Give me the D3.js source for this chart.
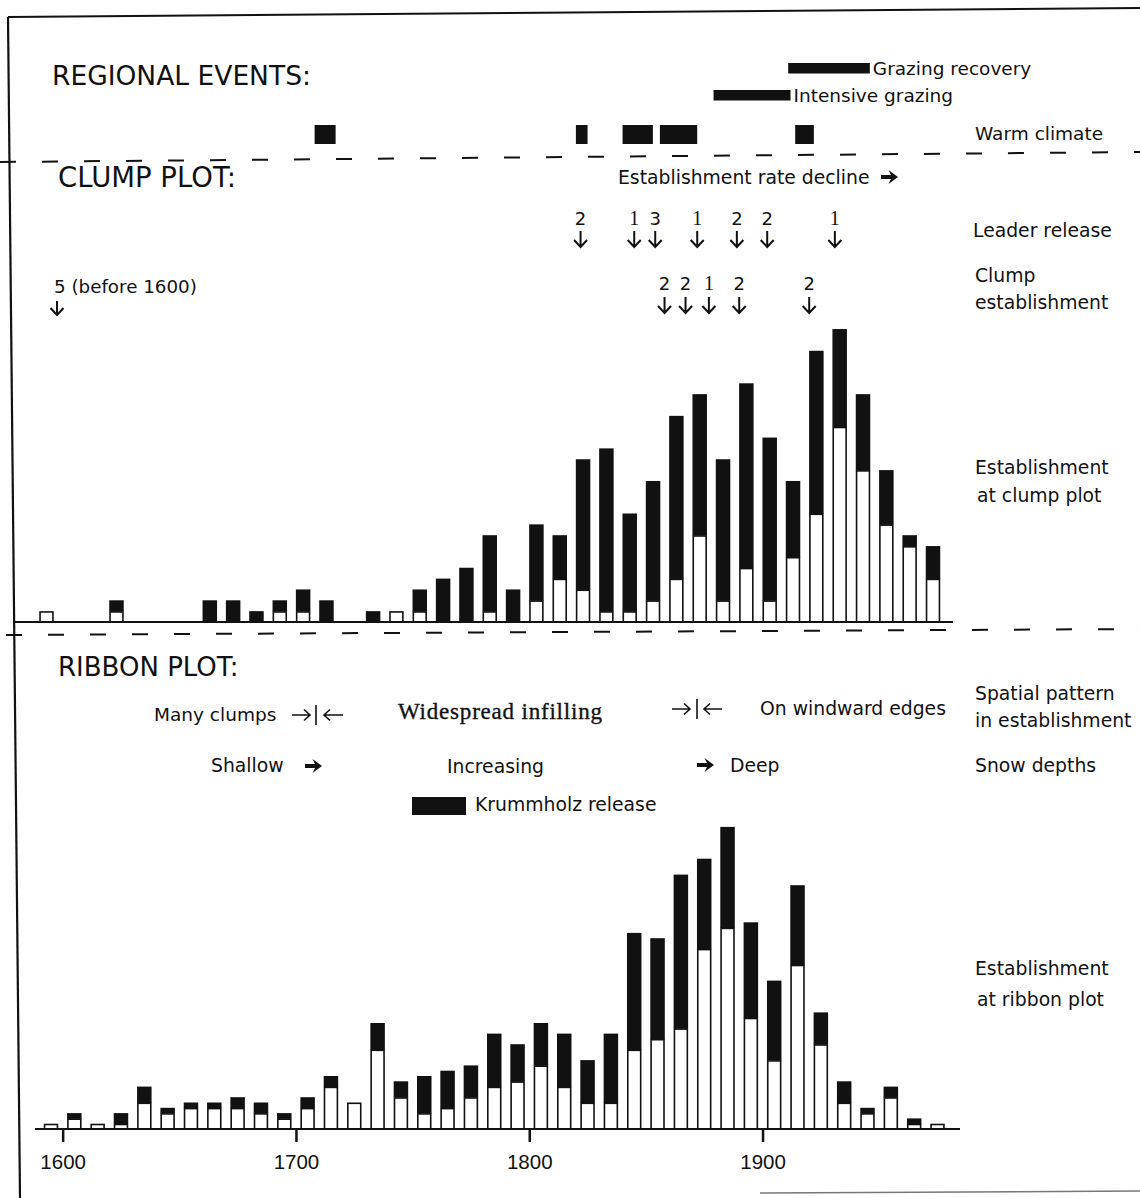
<!DOCTYPE html>
<html><head><meta charset="utf-8">
<script src="https://cdn.jsdelivr.net/npm/d3@7"></script>
<style>
html,body{margin:0;padding:0;background:#fff;}
svg text{font-family:"DejaVu Sans",sans-serif;fill:#111;}
</style></head><body>
<svg id="c" width="1140" height="1198"></svg>
<script>
// ---------- DATA ----------
const decades = d3.range(1590, 1980, 10); // 1590 ... 1970
const clumpTotal = [1,0,0,2,0,0,0,2,2,1,2,3,2,0,1,1,3,4,5,8,3,9,8,15,16,10,13,19,21,15,22,17,13,25,27,21,14,8,7];
const clumpWhite = [1,0,0,1,0,0,0,0,0,0,1,1,0,0,0,1,1,0,0,1,0,2,4,3,1,1,2,4,8,2,5,2,6,10,18,14,9,7,4];
const ribbonTotal = [1,3,1,3,8,4,5,5,6,5,3,6,10,5,20,9,10,11,12,18,16,20,18,13,18,37,36,48,51,57,39,28,46,22,9,4,8,2,1];
const ribbonWhite = [1,2,1,1,5,3,4,4,4,3,2,4,8,5,15,6,3,4,6,8,9,12,8,5,5,15,17,19,34,38,21,13,31,16,5,3,6,1,1];

const warmStart = [1708,1820,1840,1856,1914];
const warmEnd   = [1717,1825,1853,1872,1922];
const grazingLabels = ["Grazing recovery","Intensive grazing"];
const grazingStart = [1911,1879];
const grazingEnd   = [1946,1912];

const leaderYears  = [1822,1845,1854,1872,1889,1902,1931];
const leaderCounts = ["2","1","3","1","2","2","1"];
const clumpEstYears  = [1858,1867,1877,1890,1920];
const clumpEstCounts = ["2","2","1","2","2"];

const tickYears = [1600,1700,1800,1900];

// ---------- SCALES ----------
const svg = d3.select("#c");
const x = d3.scaleLinear().domain([1595,1975]).range([51,937.5]);
const clumpBase = 622, ribbonBase = 1129;
const yClump = d3.scaleLinear().domain([0,30]).range([clumpBase, clumpBase-325.5]);
const yRib = d3.scaleLinear().domain([0,60]).range([ribbonBase, ribbonBase-318]);
const barW = 14.5;

// ---------- FRAME ----------
const frame = svg.append("g").attr("stroke","#111").attr("fill","none");
frame.append("line").attr("x1",8).attr("y1",17).attr("x2",1140).attr("y2",8).attr("stroke-width",2);
frame.append("line").attr("x1",8).attr("y1",17).attr("x2",20).attr("y2",1198).attr("stroke-width",2.2);
frame.append("line").attr("x1",760).attr("y1",1193).attr("x2",1140).attr("y2",1191).attr("stroke-width",1.5).attr("stroke","#777");
frame.append("line").attr("x1",0).attr("y1",162).attr("x2",1140).attr("y2",152).attr("stroke-width",2).attr("stroke-dasharray","16 26");
frame.append("line").attr("x1",0).attr("y1",635).attr("x2",1140).attr("y2",629).attr("stroke-width",2).attr("stroke-dasharray","16 26").attr("stroke-dashoffset",-6);

// ---------- helpers ----------
function text(t, xx, yy, size, opts={}) {
  const el = svg.append("text").attr("x",xx).attr("y",yy).attr("font-size",size).text(t);
  if (opts.anchor) el.attr("text-anchor",opts.anchor);
  if (opts.family) el.style("font-family",opts.family);
  if (opts.weight) el.attr("font-weight",opts.weight);
  if (opts.ls) el.attr("letter-spacing",opts.ls);
  return el;
}
function downArrow(xx, y0, y1) {
  svg.append("path").attr("d",`M${xx},${y0}L${xx},${y1}M${xx-6.5},${y1-7}L${xx},${y1}L${xx+6.5},${y1-7}`)
    .attr("stroke","#111").attr("stroke-width",2).attr("fill","none");
}
function thinArrow(x0, x1, yy) {
  const d = x1 > x0 ? 1 : -1;
  svg.append("path").attr("d",`M${x0},${yy}L${x1},${yy}M${x1-6*d},${yy-5.5}L${x1},${yy}L${x1-6*d},${yy+5.5}`)
    .attr("stroke","#111").attr("stroke-width",1.6).attr("fill","none");
}
function heavyArrow(x0, x1, yy) {
  svg.append("path").attr("d",`M${x0},${yy-2}L${x1-7},${yy-2}L${x1-9.5},${yy-7}L${x1},${yy}L${x1-9.5},${yy+7}L${x1-7},${yy+2}L${x0},${yy+2}Z`)
    .attr("fill","#111");
}
function sepBar(xx, y0, y1) {
  svg.append("line").attr("x1",xx).attr("x2",xx).attr("y1",y0).attr("y2",y1).attr("stroke","#111").attr("stroke-width",1.6);
}

// ---------- REGIONAL EVENTS ----------
text("REGIONAL EVENTS:", 52, 85, 26.5);
svg.append("g").selectAll("rect").data(warmStart).join("rect")
  .attr("x",(d)=>x(d)).attr("width",(d,i)=>x(warmEnd[i])-x(d))
  .attr("y",125).attr("height",19).attr("fill","#111");
const gy = [63,90];
svg.append("g").selectAll("rect").data(grazingStart).join("rect")
  .attr("x",(d)=>x(d)).attr("width",(d,i)=>x(grazingEnd[i])-x(d))
  .attr("y",(d,i)=>gy[i]).attr("height",10.5).attr("fill","#111");
grazingLabels.forEach((l,i)=> text(l, x(grazingEnd[i])+3, gy[i]+12, 18.5));
text("Warm climate", 975, 140, 18.5);

// ---------- CLUMP PLOT ----------
text("CLUMP PLOT:", 58, 187, 27.5);
text("Establishment rate decline", 618, 184, 18.8);
heavyArrow(881, 898, 177);

leaderYears.forEach((yr,i)=>{
  const xx = x(yr);
  const serif = leaderCounts[i]==="1";
  text(leaderCounts[i], xx, 225, serif ? 20 : 18, {anchor:"middle", family: serif ? "Liberation Serif" : null});
  downArrow(xx, 231, 247);
});
text("Leader release", 973, 237, 18.8);

clumpEstYears.forEach((yr,i)=>{
  const xx = x(yr);
  const serif = clumpEstCounts[i]==="1";
  text(clumpEstCounts[i], xx, 290, serif ? 20 : 18, {anchor:"middle", family: serif ? "Liberation Serif" : null});
  downArrow(xx, 297, 313);
});
text("5 (before 1600)", 54, 293, 18.3);
downArrow(57, 301, 315);
text("Clump", 975, 282, 18.8);
text("establishment", 975, 309, 18.8);
text("Establishment", 975, 474, 18.8);
text("at clump plot", 977, 502, 18.8);

function drawBars(g, totals, whites, yS, off) {
  const data = decades.map((d,i)=>({yr:d, t:totals[i], w:whites[i]})).filter(d=>d.t>0);
  g.selectAll("rect.blk").data(data.filter(d=>d.t>d.w)).join("rect").attr("class","blk")
    .attr("x",d=>x(d.yr+5)+off-barW/2).attr("width",barW)
    .attr("y",d=>yS(d.t)).attr("height",d=>yS(d.w)-yS(d.t)+0.5).attr("fill","#111");
  g.selectAll("rect.wht").data(data.filter(d=>d.w>0)).join("rect").attr("class","wht")
    .attr("x",d=>x(d.yr+5)+off-barW/2+0.8).attr("width",barW-1.6)
    .attr("y",d=>yS(d.w)+0.8).attr("height",d=>yS(0)-yS(d.w)-0.8)
    .attr("fill","#fff").attr("stroke","#111").attr("stroke-width",1.6);
}
drawBars(svg.append("g"), clumpTotal, clumpWhite, yClump, -4.5);
svg.append("line").attr("x1",13).attr("x2",953).attr("y1",clumpBase).attr("y2",clumpBase)
  .attr("stroke","#111").attr("stroke-width",2);

// ---------- RIBBON PLOT ----------
text("RIBBON PLOT:", 58, 676, 26);
text("Many clumps", 154, 721, 18.5);
thinArrow(292, 310, 715); sepBar(316, 705, 725); thinArrow(343, 324, 715);
text("Widespread infilling", 398, 719, 23, {family:"Liberation Serif", ls:0.8}).attr("stroke","#111").attr("stroke-width",0.35);
thinArrow(672, 690, 709); sepBar(697, 699, 719); thinArrow(722, 704, 709);
text("On windward edges", 760, 715, 18.8);
text("Spatial pattern", 975, 700, 18.8);
text("in establishment", 975, 727, 18.8);
text("Shallow", 211, 772, 18.8);
heavyArrow(305, 322, 766);
text("Increasing", 447, 773, 18.8);
heavyArrow(697, 714, 765);
text("Deep", 730, 772, 18.8);
text("Snow depths", 975, 772, 18.8);
svg.append("rect").attr("x",412).attr("y",797).attr("width",54).attr("height",18).attr("fill","#111");
text("Krummholz release", 475, 811, 18.8);
text("Establishment", 975, 975, 18.8);
text("at ribbon plot", 977, 1006, 18.8);

drawBars(svg.append("g"), ribbonTotal, ribbonWhite, yRib, 0);
svg.append("line").attr("x1",35).attr("x2",960).attr("y1",ribbonBase).attr("y2",ribbonBase)
  .attr("stroke","#111").attr("stroke-width",2.2);
const axis = d3.axisBottom(x).tickValues(tickYears).tickFormat(d3.format("d")).tickSize(13).tickPadding(12);
const ag = svg.append("g").attr("transform",`translate(0,${ribbonBase})`).call(axis);
ag.select(".domain").remove();
ag.selectAll(".tick line").attr("stroke","#111").attr("stroke-width",2.5);
ag.selectAll(".tick text").attr("font-size",20.5).style("font-family","Liberation Sans").attr("fill","#111");
</script></body></html>
